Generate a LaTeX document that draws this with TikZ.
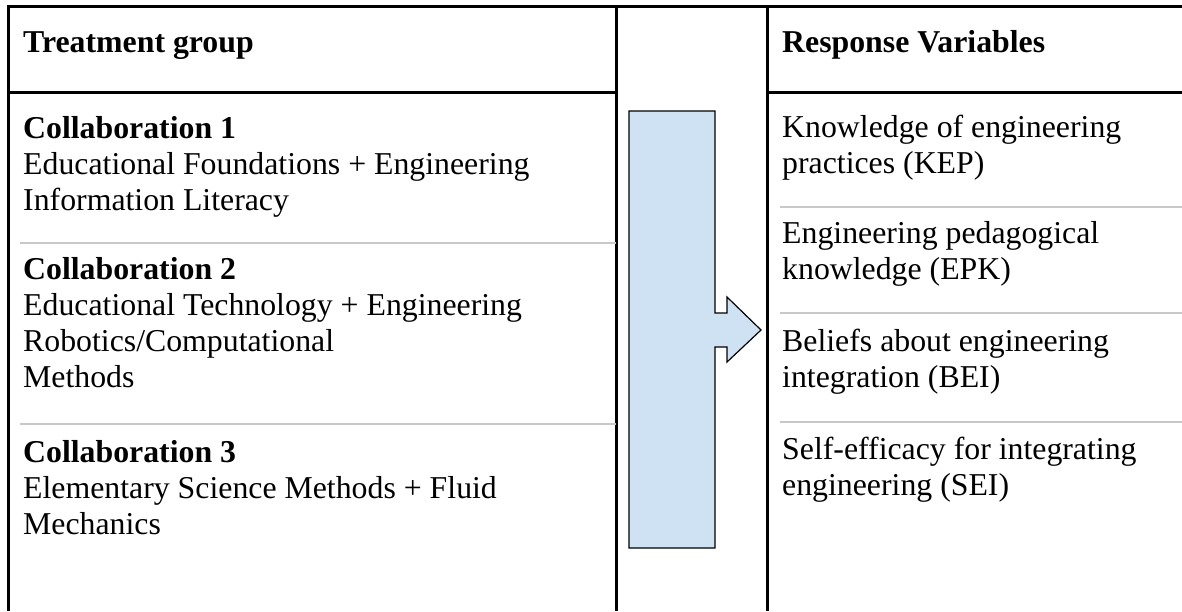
\documentclass[tikz,border=0pt]{standalone}
\usepackage{fontspec}
\setmainfont{Liberation Serif}
\usetikzlibrary{positioning}
\definecolor{arrowblue}{RGB}{207,226,243}
\definecolor{rulegray}{RGB}{200,200,200}

\begin{document}
\begin{tikzpicture}[x=1pt, y=-1pt,
    cell/.style={anchor=north west, inner sep=0pt, align=left, font=\fontsize{31.8}{36}\selectfont},
    headcell/.style={cell, font=\fontsize{31.8}{36}\selectfont\bfseries},
    frame/.style={line width=3pt},
    rule/.style={rulegray, line width=1.5pt}]
    \useasboundingbox (0,0) rectangle (1182,611);

    % Frame {top, left, columns, header}
    \draw [frame] (1182,6.5) -- (8,6.5) -- (8,611);
    \draw [frame] (616,6.5) -- (616,611);
    \draw [frame] (767,6.5) -- (767,611);
    \draw [frame] (8,92) -- (616,92);
    \draw [frame] (767,92) -- (1182,92);

    % Rules between rows
    \draw [rule] (20,243) -- (616,243);
    \draw [rule] (20,424) -- (616,424);
    \draw [rule] (780,207) -- (1182,207);
    \draw [rule] (780,313) -- (1182,313);
    \draw [rule] (780,422) -- (1182,422);

    % Nodes {treat, resp, collab1..3, kep, epk, bei, sei}
    \node [headcell] (treat)   at (23,31)     {Treatment group};
    \node [headcell] (resp)    at (782,30.3)  {Response Variables};
    \node [cell]     (collab1) at (23,116.3)  {\textbf{Collaboration 1}\\Educational Foundations + Engineering\\Information Literacy};
    \node [cell]     (collab2) at (23,257.3)  {\textbf{Collaboration 2}\\Educational Technology + Engineering\\Robotics/Computational\\Methods};
    \node [cell]     (collab3) at (23,440.3)  {\textbf{Collaboration 3}\\Elementary Science Methods + Fluid\\Mechanics};
    \node [cell]     (kep)     at (782,115.3) {Knowledge of engineering\\practices (KEP)};
    \node [cell]     (epk)     at (782,221.3) {Engineering pedagogical\\knowledge (EPK)};
    \node [cell]     (bei)     at (782,329.3) {Beliefs about engineering\\integration (BEI)};
    \node [cell]     (sei)     at (782,437.3) {Self-efficacy for integrating\\engineering (SEI)};

    % Arrow
    \draw [fill=arrowblue, line width=1.2pt, line join=miter]
        (629,111) -- (715,111) -- (715,313) -- (727,313) -- (727,297)
        -- (761,330) -- (727,362) -- (727,347) -- (715,347)
        -- (715,548) -- (629,548) -- cycle;
\end{tikzpicture}
\end{document}
